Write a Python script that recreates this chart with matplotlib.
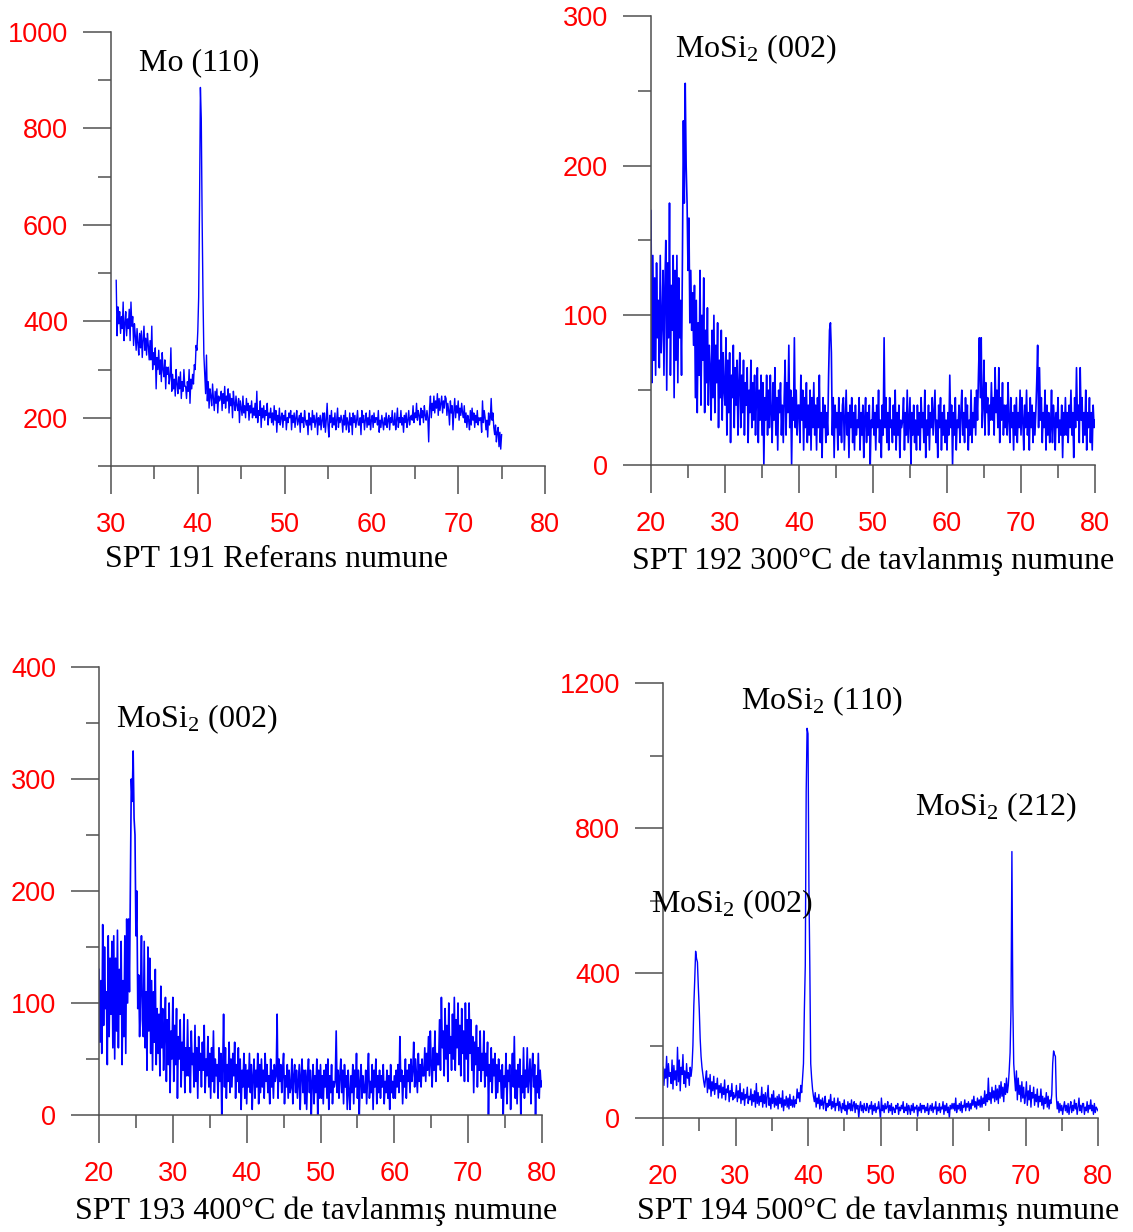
import numpy as np
import matplotlib
matplotlib.use('Agg')
import matplotlib.pyplot as plt

plt.rcParams['mathtext.fontset'] = 'custom'
plt.rcParams['mathtext.rm'] = 'Liberation Serif'
plt.rcParams['mathtext.it'] = 'Liberation Serif'

#-------------------------------------------- Data --------------------------------------------#

# SPT 191 : 2theta from 30.6 to 75.0, step 0.1 (one row = 2 degrees)
spt191_start = 30.6
spt191_step = 0.1
spt191 = [485, 370, 430, 395, 420, 375, 410, 385, 440, 360, 395, 420, 370, 405, 385, 425, 360, 440, 390, 410,
          350, 395, 370, 340, 385, 355, 330, 375, 345, 380, 325, 360, 390, 340, 365, 330, 375, 350, 320, 360,
          320, 390, 300, 335, 310, 345, 260, 325, 300, 340, 290, 320, 275, 335, 300, 285, 320, 260, 305, 290,
          305, 270, 285, 345, 255, 290, 260, 280, 245, 300, 270, 250, 285, 260, 295, 240, 275, 255, 300, 265,
          265, 240, 275, 255, 300, 230, 280, 260, 290, 270, 310, 300, 350, 340, 380, 450, 640, 885, 820, 610,
          450, 330, 290, 250, 330, 235, 275, 220, 260, 245, 225, 270, 240, 215, 255, 230, 260, 210, 245, 235,
          240, 255, 215, 250, 230, 265, 220, 245, 235, 260, 210, 250, 225, 240, 200, 255, 230, 215, 245, 225,
          215, 240, 190, 235, 220, 205, 245, 210, 225, 200, 240, 215, 230, 195, 225, 210, 235, 200, 220, 205,
          230, 200, 255, 190, 215, 205, 235, 180, 220, 200, 225, 195, 215, 205, 230, 185, 210, 200, 220, 190,
          210, 185, 225, 195, 215, 170, 205, 190, 220, 185, 200, 210, 180, 205, 195, 215, 175, 200, 190, 210,
          200, 215, 175, 205, 190, 210, 180, 200, 215, 185, 195, 205, 170, 210, 190, 200, 180, 215, 195, 185,
          195, 165, 210, 185, 200, 175, 215, 190, 205, 180, 195, 210, 165, 200, 185, 205, 175, 195, 210, 180,
          210, 170, 195, 230, 185, 160, 205, 190, 215, 180, 200, 185, 210, 175, 195, 220, 180, 200, 190, 205,
          195, 170, 205, 185, 215, 175, 200, 190, 170, 210, 185, 200, 165, 210, 190, 205, 180, 195, 215, 185,
          185, 200, 165, 215, 190, 205, 175, 195, 210, 180, 200, 185, 215, 175, 195, 205, 180, 210, 190, 200,
          200, 185, 215, 170, 195, 180, 205, 190, 175, 200, 185, 210, 180, 195, 205, 175, 200, 190, 215, 185,
          185, 210, 175, 195, 220, 180, 200, 190, 215, 185, 200, 170, 205, 190, 210, 180, 195, 215, 185, 200,
          205, 195, 225, 190, 210, 200, 230, 195, 215, 205, 185, 220, 200, 215, 190, 225, 205, 195, 215, 200,
          150, 220, 245, 200, 230, 215, 245, 210, 235, 220, 250, 205, 240, 215, 230, 245, 210, 235, 220, 245,
          240, 205, 230, 215, 185, 235, 210, 225, 175, 215, 240, 200, 225, 210, 235, 195, 220, 205, 230, 210,
          200, 225, 190, 210, 180, 205, 195, 175, 215, 185, 220, 195, 210, 180, 205, 190, 215, 185, 200, 195,
          200, 170, 235, 190, 215, 200, 175, 195, 160, 210, 185, 200, 240, 195, 210, 180, 165, 185, 150, 170,
          180, 140, 170, 135, 165]

# SPT 192..194 : 2theta from 20 to 80, step 0.125 (one row = 2 degrees)
scan_start = 20.0
scan_step = 0.125

spt192 = [170, 55, 140, 70, 125, 60, 135, 85, 110, 65, 140, 75, 95, 130, 60, 120,
          150, 50, 135, 85, 175, 60, 120, 90, 140, 45, 130, 70, 140, 55, 125, 85,
          110, 60, 140, 230, 175, 255, 200, 175, 130, 165, 95, 130, 90, 115, 80, 120,
          45, 110, 35, 95, 60, 130, 40, 100, 70, 125, 35, 90, 55, 105, 40, 80,
          65, 30, 90, 45, 100, 35, 80, 55, 95, 25, 70, 45, 90, 30, 75, 50,
          40, 85, 20, 70, 35, 75, 15, 60, 45, 80, 25, 65, 40, 70, 20, 55,
          75, 25, 60, 35, 70, 20, 55, 40, 65, 15, 50, 35, 70, 25, 55, 30,
          60, 20, 45, 65, 15, 50, 30, 60, 20, 55, 0, 45, 30, 60, 20, 50,
          25, 60, 35, 15, 55, 30, 65, 20, 45, 10, 50, 35, 55, 20, 40, 15,
          45, 70, 20, 55, 35, 80, 25, 50, 0, 45, 30, 85, 25, 50, 20, 40,
          40, 15, 60, 30, 50, 10, 45, 25, 55, 15, 40, 20, 50, 10, 45, 25,
          55, 20, 40, 10, 45, 25, 60, 15, 35, 5, 45, 25, 40, 15, 35, 20,
          60, 90, 95, 75, 20, 45, 5, 40, 25, 35, 10, 45, 20, 35, 15, 40,
          45, 10, 30, 50, 20, 35, 5, 40, 25, 45, 15, 35, 10, 40, 20, 30,
          25, 45, 10, 35, 20, 40, 5, 30, 45, 15, 35, 20, 40, 0, 30, 25,
          45, 20, 35, 10, 40, 25, 50, 15, 30, 5, 40, 20, 85, 25, 45, 15,
          35, 10, 45, 25, 30, 15, 40, 20, 50, 10, 35, 20, 40, 5, 30, 25,
          30, 45, 10, 35, 20, 50, 15, 30, 45, 0, 35, 20, 40, 15, 30, 10,
          40, 20, 35, 10, 45, 25, 35, 15, 50, 5, 30, 20, 40, 10, 35, 25,
          45, 20, 35, 50, 15, 30, 5, 40, 25, 45, 10, 35, 20, 40, 15, 30,
          10, 35, 20, 60, 25, 40, 0, 35, 20, 45, 10, 30, 25, 40, 15, 35,
          50, 20, 35, 15, 45, 25, 40, 10, 30, 20, 50, 15, 35, 25, 45, 20,
          50, 30, 60, 85, 45, 85, 25, 40, 70, 20, 55, 35, 45, 20, 40, 30,
          55, 30, 45, 20, 65, 35, 50, 25, 65, 15, 45, 30, 55, 20, 40, 25,
          40, 20, 55, 30, 15, 45, 25, 35, 10, 40, 20, 45, 15, 35, 25, 50,
          20, 45, 30, 10, 40, 25, 50, 20, 35, 10, 45, 25, 40, 15, 35, 20,
          35, 55, 80, 25, 65, 30, 45, 15, 35, 25, 50, 10, 40, 20, 35, 15,
          25, 50, 15, 40, 30, 10, 35, 25, 45, 15, 30, 20, 40, 5, 35, 20,
          45, 20, 35, 15, 40, 25, 50, 20, 35, 5, 45, 25, 65, 30, 40, 15,
          65, 30, 45, 15, 35, 20, 50, 10, 35, 25, 45, 15, 35, 10, 40, 25,
          30]

spt193 = [130, 65, 120, 55, 170, 80, 150, 95, 110, 45, 160, 70, 140, 90, 155, 60,
          160, 50, 140, 75, 165, 60, 130, 90, 155, 45, 120, 70, 160, 55, 175, 100,
          175, 110, 200, 300, 280, 325, 265, 250, 160, 200, 95, 125, 70, 110, 160, 85,
          70, 155, 60, 110, 40, 150, 75, 140, 55, 120, 40, 110, 65, 130, 45, 95,
          55, 90, 35, 115, 60, 95, 40, 75, 105, 30, 85, 45, 100, 20, 75, 50,
          105, 30, 80, 45, 95, 15, 70, 50, 85, 25, 65, 40, 90, 20, 60, 35,
          85, 35, 60, 20, 75, 45, 55, 25, 80, 30, 60, 15, 70, 40, 55, 25,
          65, 40, 80, 20, 50, 35, 70, 25, 55, 15, 60, 30, 75, 20, 50, 35,
          45, 15, 60, 30, 55, 0, 40, 90, 25, 60, 15, 45, 30, 65, 20, 50,
          25, 55, 35, 65, 15, 45, 30, 60, 20, 50, 5, 40, 25, 55, 15, 45,
          10, 40, 25, 55, 20, 45, 5, 35, 50, 15, 40, 25, 55, 10, 45, 20,
          50, 25, 40, 15, 55, 30, 45, 20, 35, 10, 50, 25, 40, 15, 45, 30,
          35, 90, 15, 50, 30, 45, 20, 40, 55, 10, 35, 25, 45, 15, 40, 20,
          25, 50, 10, 35, 45, 20, 40, 15, 30, 45, 5, 35, 50, 20, 40, 10,
          40, 5, 35, 50, 20, 40, 0, 30, 45, 10, 35, 20, 50, 0, 40, 15,
          45, 15, 35, 10, 40, 25, 45, 15, 50, 5, 35, 20, 45, 10, 30, 25,
          30, 75, 20, 40, 15, 35, 50, 20, 40, 10, 45, 25, 35, 5, 40, 20,
          5, 35, 20, 45, 10, 40, 25, 55, 15, 40, 0, 30, 45, 15, 35, 20,
          20, 40, 10, 35, 55, 15, 30, 20, 45, 5, 40, 25, 50, 10, 35, 20,
          40, 15, 35, 25, 45, 10, 30, 20, 40, 15, 35, 5, 45, 20, 30, 15,
          35, 15, 40, 25, 45, 20, 70, 30, 40, 10, 35, 25, 50, 15, 40, 30,
          45, 20, 50, 30, 40, 65, 25, 50, 35, 20, 55, 30, 45, 25, 50, 35,
          35, 60, 30, 55, 40, 70, 35, 75, 45, 25, 60, 40, 75, 30, 55, 45,
          45, 85, 40, 105, 60, 75, 35, 95, 50, 80, 30, 100, 55, 70, 40, 90,
          50, 105, 40, 85, 60, 100, 45, 80, 35, 95, 55, 75, 30, 100, 50, 85,
          30, 100, 55, 85, 40, 70, 20, 65, 45, 80, 25, 60, 40, 75, 30, 55,
          40, 75, 25, 55, 35, 65, 0, 45, 30, 60, 20, 50, 35, 55, 15, 45,
          20, 50, 30, 40, 15, 45, 0, 35, 25, 55, 10, 40, 30, 45, 5, 35,
          55, 25, 70, 15, 40, 10, 45, 25, 50, 0, 35, 20, 60, 15, 40, 25,
          60, 20, 35, 50, 10, 40, 55, 25, 45, 0, 35, 20, 55, 15, 40, 25,
          30]

spt194 = [140, 90, 135, 110, 170, 85, 150, 115, 125, 95, 160, 80, 145, 105, 130, 90,
          195, 100, 160, 75, 140, 120, 175, 95, 130, 85, 150, 110, 125, 90, 140, 115,
          140, 200, 310, 380, 460, 440, 430, 360, 300, 220, 170, 140, 120, 100, 85, 110,
          130, 70, 110, 80, 120, 60, 100, 75, 115, 65, 95, 80, 110, 55, 90, 70,
          95, 55, 85, 65, 105, 50, 80, 70, 90, 45, 75, 60, 95, 50, 70, 55,
          60, 90, 45, 75, 55, 95, 40, 70, 50, 80, 35, 65, 55, 85, 40, 60,
          50, 80, 35, 65, 45, 75, 30, 95, 40, 70, 35, 60, 45, 85, 30, 65,
          40, 70, 30, 60, 90, 35, 55, 25, 65, 40, 75, 30, 55, 35, 60, 25,
          65, 40, 55, 30, 75, 20, 50, 35, 60, 30, 55, 25, 65, 35, 50, 30,
          60, 30, 50, 40, 80, 55, 70, 45, 90, 70, 110, 150, 300, 420, 900, 1075,
          1060, 640, 420, 150, 110, 80, 60, 45, 70, 30, 55, 40, 65, 25, 50, 35,
          55, 25, 45, 60, 20, 40, 30, 50, 35, 65, 25, 45, 30, 55, 20, 40,
          35, 55, 20, 45, 30, 15, 40, 25, 50, 20, 35, 10, 45, 25, 40, 20,
          50, 20, 35, 45, 15, 40, 25, 35, 0, 30, 45, 20, 35, 15, 40, 25,
          20, 40, 30, 15, 35, 25, 45, 10, 35, 20, 40, 15, 30, 25, 45, 20,
          0, 55, 20, 35, 15, 40, 25, 30, 45, 15, 35, 20, 40, 10, 30, 25,
          15, 35, 25, 40, 10, 30, 20, 35, 25, 45, 15, 30, 20, 40, 10, 35,
          25, 10, 35, 20, 40, 15, 30, 25, 35, 5, 30, 20, 40, 15, 35, 25,
          35, 15, 30, 20, 40, 10, 25, 35, 20, 40, 15, 30, 25, 45, 10, 30,
          20, 40, 15, 30, 25, 45, 10, 35, 20, 40, 15, 30, 0, 35, 25, 40,
          25, 40, 20, 55, 15, 35, 25, 40, 20, 45, 15, 35, 30, 50, 20, 40,
          30, 45, 20, 40, 25, 50, 35, 60, 30, 45, 25, 55, 35, 50, 30, 60,
          30, 55, 40, 75, 35, 65, 45, 110, 50, 70, 40, 85, 55, 75, 45, 90,
          50, 80, 40, 90, 55, 100, 60, 85, 45, 95, 65, 110, 70, 90, 130, 180,
          300, 735, 320, 150, 110, 75, 130, 50, 110, 65, 90, 45, 100, 55, 85, 40,
          60, 100, 35, 75, 50, 90, 30, 70, 55, 85, 35, 65, 45, 80, 30, 60,
          45, 80, 35, 60, 25, 55, 40, 70, 30, 60, 25, 50, 40, 65, 150, 185,
          175, 170, 60, 25, 45, 15, 40, 20, 35, 10, 30, 45, 20, 35, 15, 40,
          10, 30, 45, 15, 35, 20, 50, 25, 40, 10, 30, 55, 20, 35, 15, 40,
          40, 10, 30, 20, 45, 15, 35, 25, 50, 20, 35, 10, 40, 15, 30, 25,
          20]

xticks_191 = [30, 40, 50, 60, 70, 80]
xticks_scan = [20, 30, 40, 50, 60, 70, 80]

titles = ['SPT 191 Referans numune',
          'SPT 192 300\u00b0C de tavlanm\u0131\u015f numune',
          'SPT 193 400\u00b0C de tavlanm\u0131\u015f numune',
          'SPT 194 500\u00b0C de tavlanm\u0131\u015f numune']

def scan_x(start, step, vals):
    return start + step * np.arange(len(vals))

#-------------------------------------------- Plotting --------------------------------------------#

W, H = 1133, 1232
fig = plt.figure(figsize=(W / 100, H / 100), dpi=100)

def box(left, top, right, bottom):
    return [left / W, 1 - bottom / H, (right - left) / W, (bottom - top) / H]

serif = 'Liberation Serif'
sans = 'Liberation Sans'
textsize = 23
axcolor = '#505050'

def setupAxes(ax, xlim, xticks, ylim, yticks, yminor, label, label_x):
    ax.set_xlim(xlim)
    ax.set_ylim(ylim)
    for s in ['top', 'right']:
        ax.spines[s].set_visible(False)
    for s in ['left', 'bottom']:
        ax.spines[s].set_color(axcolor)
        ax.spines[s].set_linewidth(1.1)
    ax.set_xticks(xticks)
    ax.set_xticks([t + 5 for t in xticks[:-1]], minor=True)
    ax.set_yticks(yticks)
    ax.set_yticks(yminor, minor=True)
    ax.tick_params(which='major', length=20, width=1.1, color=axcolor,
                   labelcolor='red', labelsize=19.5)
    ax.tick_params(which='minor', length=9.5, width=1.1, color=axcolor)
    ax.tick_params(axis='x', which='major', pad=13)
    ax.tick_params(axis='y', which='major', pad=11)
    for t in ax.get_xticklabels() + ax.get_yticklabels():
        t.set_fontfamily(sans)
    ax.text(label_x, -0.215, label, transform=ax.transAxes, ha='center',
            va='center', fontsize=textsize, family=serif)

# SPT 191
ax1 = fig.add_axes(box(111, 32, 545, 466))
ax1.plot(scan_x(spt191_start, spt191_step, spt191), spt191, color='#0000ff', lw=1.0)
setupAxes(ax1, (30, 80), xticks_191, (100, 1000), [200, 400, 600, 800, 1000],
          [100, 300, 500, 700, 900], titles[0], 0.382)
ax1.text(33.2, 936, 'Mo (110)', fontsize=textsize, family=serif, va='center')

# SPT 192
ax2 = fig.add_axes(box(651, 16, 1095, 465))
ax2.plot(scan_x(scan_start, scan_step, spt192), spt192, color='#0000ff', lw=1.2)
setupAxes(ax2, (20, 80), xticks_scan, (0, 300), [0, 100, 200, 300],
          [50, 150, 250], titles[1], 0.5)
ax2.text(23.2, 278, 'MoSi$_\\mathregular{2}$ (002)', fontsize=textsize, family=serif, va='center')

# SPT 193
ax3 = fig.add_axes(box(99, 667, 542, 1115))
ax3.plot(scan_x(scan_start, scan_step, spt193), spt193, color='#0000ff', lw=1.2)
setupAxes(ax3, (20, 80), xticks_scan, (0, 400), [0, 100, 200, 300, 400],
          [50, 150, 250, 350], titles[2], 0.49)
ax3.text(22.3, 353, 'MoSi$_\\mathregular{2}$ (002)', fontsize=textsize, family=serif, va='center')

# SPT 194
ax4 = fig.add_axes(box(663, 683, 1098, 1118))
ax4.plot(scan_x(scan_start, scan_step, spt194), spt194, color='#0000ff', lw=1.0)
setupAxes(ax4, (20, 80), xticks_scan, (0, 1200), [0, 400, 800, 1200],
          [200, 600, 1000], titles[3], 0.495)
ax4.text(30.8, 1150, 'MoSi$_\\mathregular{2}$ (110)', fontsize=textsize, family=serif, va='center')
ax4.text(54.8, 858, 'MoSi$_\\mathregular{2}$ (212)', fontsize=textsize, family=serif, va='center')
ax4.text(18.3, 590, 'MoSi$_\\mathregular{2}$ (002)', fontsize=textsize, family=serif, va='center',
         clip_on=False)

fig.savefig('out.png', dpi=100)
